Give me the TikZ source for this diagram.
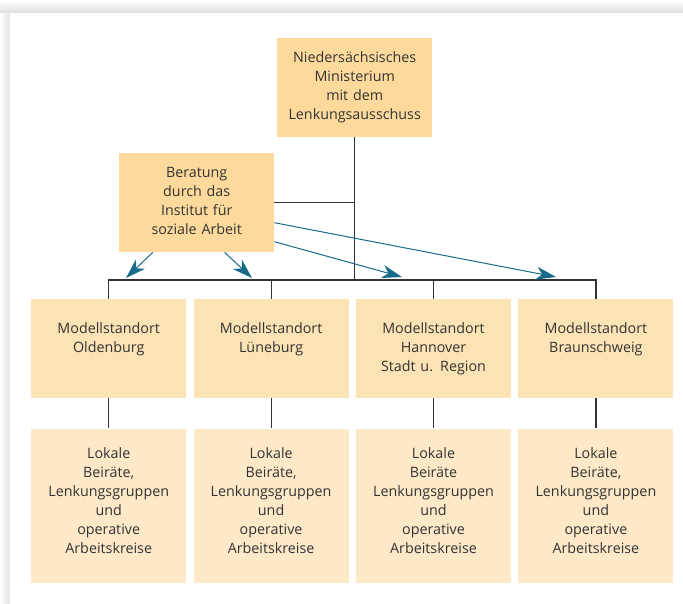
\documentclass[tikz,border=0pt]{standalone}
\usepackage{fontspec}
\setmainfont{Open Sans}
\usetikzlibrary{arrows.meta,positioning,calc}
\definecolor{boxdark}{HTML}{FDDA9B}
\definecolor{boxmid}{HTML}{FCE3B5}
\definecolor{boxlight}{HTML}{FDE8C7}
\definecolor{linegray}{HTML}{333333}
\definecolor{arrowteal}{HTML}{1A6A8A}
\begin{document}
\begin{tikzpicture}[x=1pt,y=-1pt,
node distance=30pt and 7pt,
every node/.style={font=\fontsize{14.3}{19}\selectfont,text=linegray},
box/.style={align=center,text width=155pt,inner xsep=0pt,inner ysep=0pt,anchor=north west},
topbox/.style={box,fill=boxdark,text height=24pt,text depth=75pt},
modbox/.style={box,fill=boxmid,text height=34pt,text depth=65pt},
lokbox/.style={box,fill=boxlight,text height=30pt,text depth=124pt},
link/.style={draw=linegray,line width=1.2pt},
arrow/.style={draw=arrowteal,line width=1pt,-{Stealth[length=20pt,width=13pt,inset=6pt]}}]
\useasboundingbox[fill=white] (0,0) rectangle (683,603);
\shade[top color=white,bottom color=black!13] (0,0) rectangle (683,13);
\shade[left color=white,right color=black!11] (0,13) rectangle (10,603);
\fill[white] (10,13) rectangle (683,603);
\node[topbox] (mini) at (277,38) {Niedersächsisches\\Ministerium\\mit dem\\Lenkungsausschuss};
\node[topbox] (berat) at (119,153) {Beratung\\durch das\\Institut für\\soziale Arbeit};
\node[modbox] (mold) at (31,299) {Modellstandort\\Oldenburg};
\node[modbox,right=of mold] (mlue) {Modellstandort\\Lüneburg};
\node[modbox,right=of mlue] (mhan) {Modellstandort\\Hannover\\Stadt u. Region};
\node[modbox,right=of mhan] (mbra) {Modellstandort\\Braunschweig};
\node[lokbox,below=of mold] (lold) {Lokale\\Beiräte,\\Lenkungsgruppen\\und\\operative\\Arbeitskreise};
\node[lokbox,below=of mlue] (llue) {Lokale\\Beiräte,\\Lenkungsgruppen\\und\\operative\\Arbeitskreise};
\node[lokbox,below=of mhan] (lhan) {Lokale\\Beiräte\\Lenkungsgruppen\\und\\operative\\Arbeitskreise};
\node[lokbox,below=of mbra] (lbra) {Lokale\\Beiräte,\\Lenkungsgruppen\\und\\operative\\Arbeitskreise};
\coordinate (bus) at (0,280);
\coordinate (t1) at (126,278);\coordinate (t2) at (252,278);
\coordinate (t3) at (402,277);\coordinate (t4) at (556,277);
% connectors
\draw[link] (mini.south)--(mini.south |- bus);\draw[link] (berat.east)--(berat.east -| mini.south);
\draw[link] (mold.north)--(mold.north |- bus)--(mbra.north |- bus)--(mbra.north);
\draw[link] (mlue.north)--(mlue.north |- bus);\draw[link] (mhan.north)--(mhan.north |- bus);
\draw[link] (mold.south)--(lold.north);\draw[link] (mlue.south)--(llue.north);
\draw[link] (mhan.south)--(lhan.north);\draw[link] (mbra.south)--(lbra.north);
\draw[arrow] ($(berat.south)+(-44,0)$)--(t1);\draw[arrow] ($(berat.south)+(28,0)$)--(t2);
\draw[arrow] ($(berat.east)+(0,39)$)--(t3);\draw[arrow] ($(berat.east)+(0,20)$)--(t4);
\end{tikzpicture}
\end{document}
